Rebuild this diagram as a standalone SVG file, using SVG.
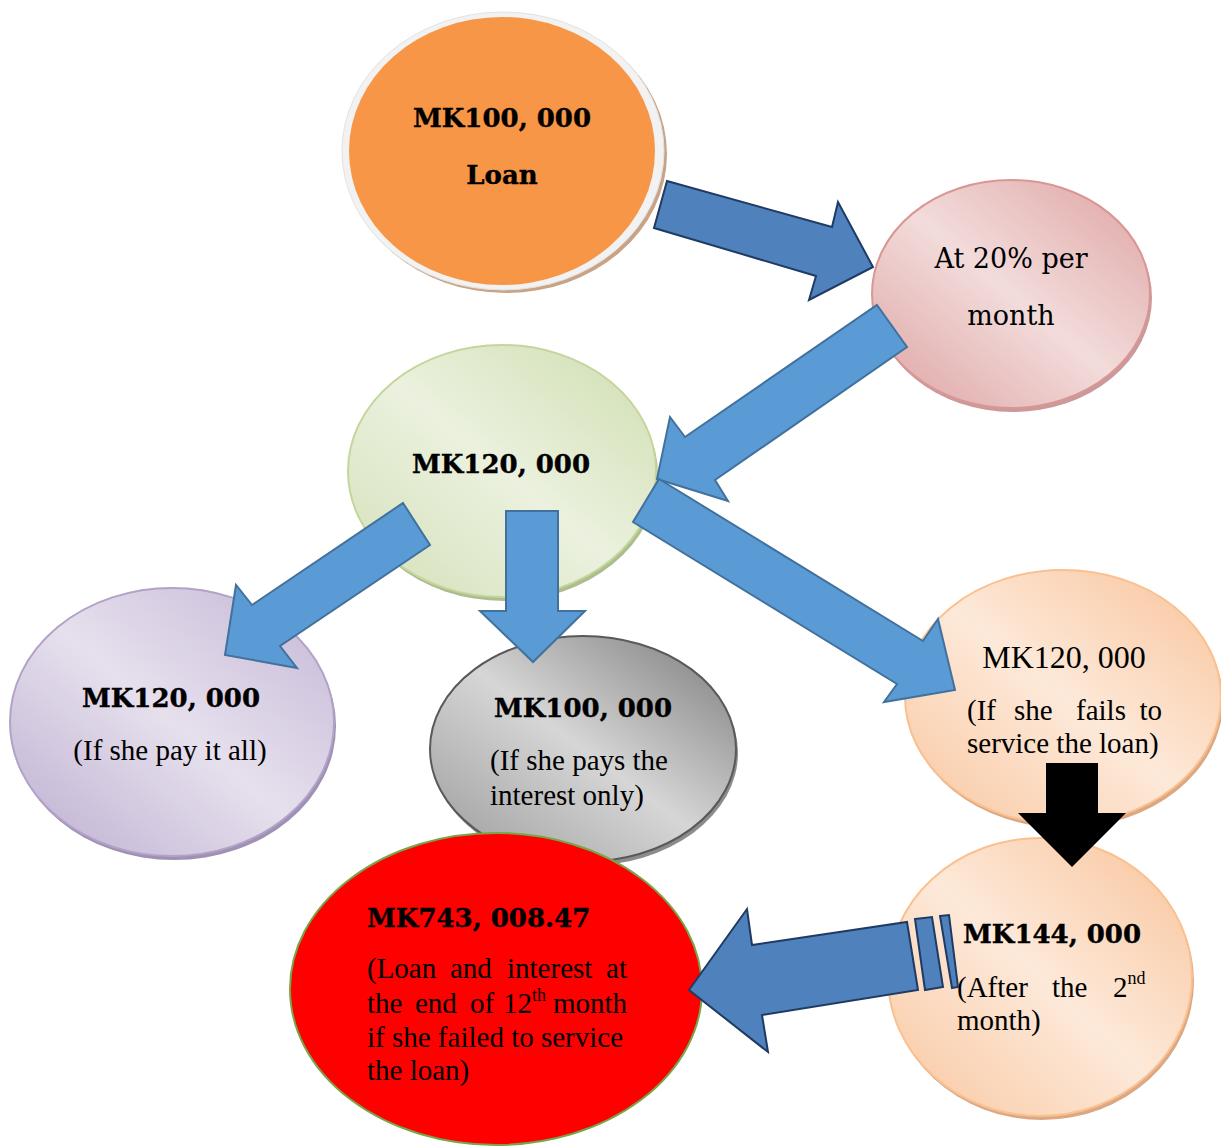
<svg xmlns="http://www.w3.org/2000/svg" width="1221" height="1146" viewBox="0 0 1221 1146">
<defs>
<linearGradient id="gPink" x1="1" y1="0" x2="0" y2="1"><stop offset="0" stop-color="#dea3a2"/><stop offset="0.5" stop-color="#f2dcdb"/><stop offset="1" stop-color="#dda2a1"/></linearGradient>
<linearGradient id="gGreen" x1="1" y1="0" x2="0" y2="1"><stop offset="0" stop-color="#cfdeb0"/><stop offset="0.5" stop-color="#ebf1de"/><stop offset="1" stop-color="#d3e0b8"/></linearGradient>
<linearGradient id="gPurple" x1="1" y1="0" x2="0" y2="1"><stop offset="0" stop-color="#c4b6d6"/><stop offset="0.5" stop-color="#e6e0ed"/><stop offset="1" stop-color="#bcadd0"/></linearGradient>
<linearGradient id="gGray" x1="1" y1="0" x2="0" y2="1"><stop offset="0" stop-color="#7a7a7a"/><stop offset="0.5" stop-color="#d6d6d6"/><stop offset="1" stop-color="#9a9a9a"/></linearGradient>
<linearGradient id="gPeach" x1="1" y1="0" x2="0" y2="1"><stop offset="0" stop-color="#f9c39a"/><stop offset="0.5" stop-color="#fde9d9"/><stop offset="1" stop-color="#f9c7a0"/></linearGradient>
</defs>
<style>
.hb{font-family:"DejaVu Serif","Liberation Serif",serif;font-weight:bold;font-size:26px;fill:#000;stroke:#000;stroke-width:0.4}
.cam{font-family:"DejaVu Serif","Liberation Serif",serif;font-size:27px;fill:#000}
.tm{font-family:"Liberation Serif","Times New Roman",serif;font-size:29px;fill:#000}
.sup{font-family:"Liberation Serif","Times New Roman",serif;font-size:18px;fill:#000}
.dk{fill:#4f81bd;stroke:#1f3b63;stroke-width:2;stroke-linejoin:miter}
.lt{fill:#5b9bd5;stroke:#41719c;stroke-width:2;stroke-linejoin:miter}
.bk{fill:#000;stroke:none}
</style>
<g id="node-loan">
<ellipse cx="506" cy="154" rx="161" ry="139" fill="#c9a385"/>
<ellipse cx="503" cy="151" rx="161" ry="139" fill="#f2f2f2" stroke="#e2e2e2" stroke-width="1"/>
<ellipse cx="502" cy="151" rx="153" ry="134" fill="#f79646"/>
<text class="hb" x="502" y="127" text-anchor="middle">MK100, 000</text>
<text class="hb" x="502" y="184" text-anchor="middle">Loan</text>
</g>
<g id="node-rate">
<ellipse cx="1013" cy="298" rx="139" ry="114" fill="#c99a99"/>
<ellipse cx="1011" cy="294" rx="139" ry="114" fill="url(#gPink)" stroke="#d99694" stroke-width="2"/>
<text class="cam" x="1011" y="268" text-anchor="middle">At 20% per</text>
<text class="cam" x="1011" y="325" text-anchor="middle">month</text>
</g>
<g id="node-120">
<ellipse cx="504" cy="475" rx="154" ry="126" fill="#aebd8e"/>
<ellipse cx="502" cy="471" rx="154" ry="126" fill="url(#gGreen)" stroke="#c3d69b" stroke-width="2"/>
<text class="hb" x="501" y="473" text-anchor="middle">MK120, 000</text>
</g>
<g id="node-payall">
<ellipse cx="174" cy="726" rx="162" ry="134" fill="#9e91b3"/>
<ellipse cx="172" cy="722" rx="162" ry="134" fill="url(#gPurple)" stroke="#b3a2c7" stroke-width="2"/>
<text class="hb" x="171" y="707" text-anchor="middle">MK120, 000</text>
<text class="tm" x="170" y="760" text-anchor="middle">(If she pay it all)</text>
</g>
<g id="node-interest">
<ellipse cx="585" cy="753" rx="153" ry="113" fill="#8c8c8c"/>
<ellipse cx="583" cy="749" rx="153" ry="113" fill="url(#gGray)" stroke="#595959" stroke-width="2"/>
<text class="hb" x="583" y="717" text-anchor="middle">MK100, 000</text>
<text class="tm" x="490" y="770">(If she pays the</text>
<text class="tm" x="490" y="805">interest only)</text>
</g>
<g id="node-fails">
<ellipse cx="1065" cy="701" rx="158" ry="127" fill="#dba883"/>
<ellipse cx="1063" cy="697" rx="158" ry="127" fill="url(#gPeach)" stroke="#fac090" stroke-width="2"/>
<text class="tm" x="1064" y="668" text-anchor="middle" style="font-size:32px">MK120, 000</text>
<text class="tm" y="720"><tspan x="967">(If</tspan><tspan x="1014">she</tspan><tspan x="1076">fails</tspan></text>
<text class="tm" x="1162" y="720" text-anchor="end">to</text>
<text class="tm" x="967" y="753">service the loan)</text>
</g>
<g id="node-144">
<ellipse cx="1042" cy="981" rx="152" ry="139" fill="#dba883"/>
<ellipse cx="1040" cy="977" rx="152" ry="139" fill="url(#gPeach)" stroke="#fac090" stroke-width="2"/>
<text class="hb" x="963" y="943">MK144, 000</text>
<text class="tm" y="997"><tspan x="957">(After</tspan><tspan x="1052">the</tspan><tspan x="1113">2</tspan><tspan class="sup" dy="-13">nd</tspan></text>
<text class="tm" x="957" y="1030">month)</text>
</g>
<g id="node-total">
<ellipse cx="496" cy="989" rx="206" ry="156" fill="#ff0000" stroke="#77a547" stroke-width="2"/>
<text class="hb" x="367" y="927">MK743, 008.47</text>
<text class="tm" y="978"><tspan x="367">(Loan</tspan><tspan x="450">and</tspan><tspan x="507">interest</tspan></text>
<text class="tm" x="627" y="978" text-anchor="end">at</text>
<text class="tm" y="1013"><tspan x="367">the</tspan><tspan x="415">end</tspan><tspan x="470">of</tspan><tspan x="503">12</tspan><tspan class="sup" dy="-12">th</tspan></text>
<text class="tm" x="627" y="1013" text-anchor="end">month</text>
<text class="tm" x="367" y="1047">if she failed to service</text>
<text class="tm" x="367" y="1080">the loan)</text>
</g>
<g id="connectors">
<polygon class="dk" points="667,181 832,227 838,202 873,267 809,300 816,276 654,228"/>
<polygon class="lt" points="877,305 907,347 715,480 728,501 657,479 670,417 685,437"/>
<polygon class="lt" points="403,503 430,545 280,646 297,668 225,655 236,585 252,605"/>
<polygon class="lt" points="506,511 558,511 558,611 585,611 533,662 480,611 506,611"/>
<polygon class="lt" points="659,479 923,641 938,619 955,690 884,702 897,684 633,522"/>
<polygon class="bk" points="1046,763 1098,763 1098,813 1126,813 1072,867 1018,813 1046,813"/>
<polygon class="dk" points="907,922 918,990 762,1015 768,1052 689,990 747,909 752,945"/>
<polygon class="dk" points="915,919 932,917 943,987 925,990"/>
<polygon class="dk" points="940,916 949,915 958,987 952,988"/>
</g>
</svg>
